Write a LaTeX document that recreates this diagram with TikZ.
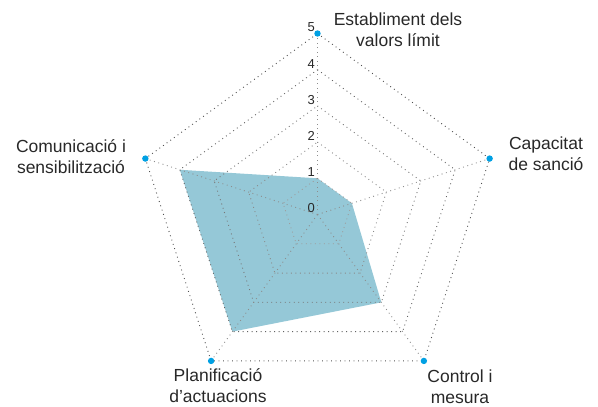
\documentclass[tikz,border=0pt]{standalone}
\usepackage{fontspec}
\setmainfont{Liberation Sans}
\begin{document}
\begin{tikzpicture}[x=1pt, y=1pt, font=\fontsize{17.5}{21}\selectfont]
        % Colors
        \definecolor{fillArea}{RGB}{149, 200, 215}
        \definecolor{dotBlue}{RGB}{0, 160, 227}
        \definecolor{gridGray}{RGB}{80, 80, 80}
        \definecolor{textGray}{RGB}{40, 40, 40}
        \tikzset{
            gridline/.style={line width=0.9pt, dash pattern=on 0.9pt off 3.6pt},
            axislabel/.style={textGray, align=center, inner sep=0pt},
            ticklabel/.style={textGray, font=\fontsize{13}{15}\selectfont, anchor=east, inner sep=1pt}
        }

        \useasboundingbox (-317.5, -192.5) rectangle (280.5, 214.5);

        \def\R{36.2}
        % Data: angle/value
        \def\data{90/1, 18/1, -54/3, -126/4, 162/4}

        % Area
        \newcommand{\areaPath}{}
        \foreach \a/\v [count=\i] in \data {
            \ifnum\i=1
                \xdef\areaPath{(\a:\v*\R)}
            \else
                \xdef\areaPath{\areaPath -- (\a:\v*\R)}
            \fi
        }
        \fill[fillArea] \areaPath -- cycle;

        % Rings
        \foreach \r in {1,...,5} {
            \pgfmathtruncatemacro{\shade}{45+11*\r}
            \draw[gridline, gridGray!\shade] (90:\r*\R) -- (18:\r*\R) -- (-54:\r*\R)
                -- (-126:\r*\R) -- (162:\r*\R) -- cycle;
        }

        % Spokes and end dots
        \foreach \a in {90, 18, -54, -126, 162} {
            \draw[gridline, gridGray!65] (0,0) -- (\a:5*\R);
            \fill[dotBlue] (\a:5*\R) circle (3.2pt);
        }

        % Scale
        \foreach \v in {0,...,5}
            \node[ticklabel] (tick\v) at (-1.5, \v*\R+6) {\v};

        \node[axislabel] (establiment) at (80.5, 185) {Establiment dels\\valors límit};
        \node[axislabel] (capacitat) at (228.5, 61) {Capacitat\\de sanció};
        \node[axislabel] (comunicacio) at (-246.5, 57.5) {Comunicació i\\sensibilització};
        \node[axislabel] (planificacio) at (-99.5, -171) {Planificació\\d’actuacions};
        \node[axislabel] (control) at (142.5, -172) {Control i\\mesura};
    \end{tikzpicture}
\end{document}
